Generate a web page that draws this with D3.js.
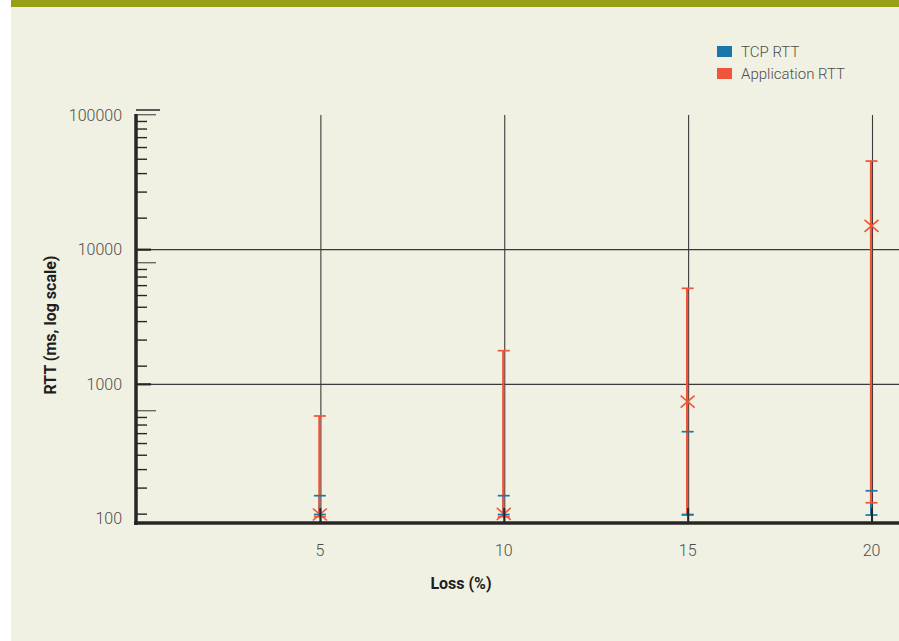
<!DOCTYPE html>
<html>
<head>
<meta charset="utf-8">
<script src="https://cdn.jsdelivr.net/npm/d3@7"></script>
<style>
  html, body { margin: 0; padding: 0; background: #ffffff; }
  svg { display: block; }
  text { font-family: Roboto, "Liberation Sans", sans-serif; }
</style>
</head>
<body>
<svg id="chart" width="899" height="641"></svg>
<script>
// Loss levels (%) on the x axis
const lossLevels = [5, 10, 15, 20];

// TCP RTT (ms): mean, lower and upper bounds
const tcpMean = [108, 108, 108, 107];
const tcpLow  = [107, 107, 107, 106];
const tcpHigh = [149, 149, 445, 162];

// Application RTT (ms): mean, lower and upper bounds
const appMean = [108, 109, 743, 15000];
const appLow  = [104, 104, 107, 132];
const appHigh = [582, 1778, 5164, 45500];

// Axis labels
const yTickValues = [100, 1000, 10000, 100000];
const xTickValues = [5, 10, 15, 20];
const seriesNames = ["TCP RTT", "Application RTT"];

const colors = { tcp: "#1b76a9", app: "#ee553a" };
const ink = "#262626";

const svg = d3.select("#chart");

// panel background and header strip
svg.append("rect").attr("x", 11).attr("y", 0).attr("width", 888).attr("height", 641).attr("fill", "#f1f1e3");
svg.append("rect").attr("x", 11).attr("y", 0).attr("width", 888).attr("height", 7).attr("fill", "#98a016");

const x = d3.scaleLinear().domain([0, 20]).range([136, 871.5]);
const y = d3.scaleLog().domain([100, 100000]).range([519, 115]);
// minor tick ladder along the y axis
const yMinor = d3.scaleLog().domain([10, 10000]).range([558.7, 114.7]);

const plotTop = y(100000);
const plotBottom = 523;
const plotLeft = x(0);
const plotRight = 899;

// horizontal gridlines
svg.append("g").selectAll("line").data(yTickValues.filter(v => v !== 100 && v !== 100000)).join("line")
  .attr("x1", plotLeft).attr("x2", plotRight)
  .attr("y1", d => y(d)).attr("y2", d => y(d))
  .attr("stroke", "#3a3a3a").attr("stroke-width", 1.2);

// vertical gridlines
svg.append("g").selectAll("line").data(xTickValues).join("line")
  .attr("x1", d => x(d) + 1).attr("x2", d => x(d) + 1)
  .attr("y1", plotTop).attr("y2", plotBottom)
  .attr("stroke", "#3a3a3a").attr("stroke-width", 1.1);

// short line at the top of the y axis
svg.append("line").attr("x1", plotLeft).attr("x2", plotLeft + 24)
  .attr("y1", plotTop - 5).attr("y2", plotTop - 5)
  .attr("stroke", ink).attr("stroke-width", 1.5);

// minor y ticks
const minorVals = [];
for (let dec = 10; dec < 10000; dec *= 10) {
  for (let k = 2; k <= 10; k++) minorVals.push(dec * k);
}
svg.append("g").selectAll("line")
  .data(minorVals.filter(v => yMinor(v) < plotBottom - 4))
  .join("line")
  .attr("x1", plotLeft).attr("x2", d => plotLeft + (String(d)[0] === "1" ? 20 : 11))
  .attr("y1", d => yMinor(d)).attr("y2", d => yMinor(d))
  .attr("stroke", d => String(d)[0] === "1" ? "#6a6a6a" : ink)
  .attr("stroke-width", 1.4);

// major y ticks
svg.append("g").selectAll("line").data(yTickValues.filter(v => v !== 100 && v !== 100000)).join("line")
  .attr("x1", plotLeft).attr("x2", plotLeft + 15)
  .attr("y1", d => y(d)).attr("y2", d => y(d))
  .attr("stroke", ink).attr("stroke-width", 2.2);

// y tick labels
svg.append("g").selectAll("text").data(yTickValues).join("text")
  .attr("x", 122).attr("y", d => (d === 100 ? y(d) - 1 : y(d)))
  .attr("dy", "0.36em").attr("text-anchor", "end")
  .attr("font-size", 16).attr("font-weight", 300).attr("fill", "#4d4d4d")
  .text(d => d);

// error bars: TCP vertical under the Application bar
const idx = d3.range(lossLevels.length);
const capHalf = 6;

svg.append("g").selectAll("line").data(idx).join("line")
  .attr("x1", i => x(lossLevels[i]) - 0.5).attr("x2", i => x(lossLevels[i]) - 0.5)
  .attr("y1", i => y(tcpLow[i])).attr("y2", i => y(tcpHigh[i]))
  .attr("stroke", colors.tcp).attr("stroke-width", 2);

svg.append("g").selectAll("line").data(idx).join("line")
  .attr("x1", i => x(lossLevels[i]) - 0.5).attr("x2", i => x(lossLevels[i]) - 0.5)
  .attr("y1", i => y(appLow[i])).attr("y2", i => y(appHigh[i]))
  .attr("stroke", colors.app).attr("stroke-width", 2.2);

// caps
function caps(values, color) {
  svg.append("g").selectAll("line").data(idx).join("line")
    .attr("x1", i => x(lossLevels[i]) - capHalf).attr("x2", i => x(lossLevels[i]) + capHalf)
    .attr("y1", i => y(values[i])).attr("y2", i => y(values[i]))
    .attr("stroke", color).attr("stroke-width", 1.7);
}
caps(appHigh, colors.app);
caps(appLow, colors.app);
caps(tcpHigh, colors.tcp);

// Application mean markers (x)
const mx = 7, my = 6;
const appMarks = svg.append("g").selectAll("g").data(idx).join("g")
  .attr("transform", i => `translate(${x(lossLevels[i])},${y(appMean[i])})`);
appMarks.append("line").attr("x1", -mx).attr("y1", -my).attr("x2", mx).attr("y2", my)
  .attr("stroke", colors.app).attr("stroke-width", 1.6);
appMarks.append("line").attr("x1", -mx).attr("y1", my).attr("x2", mx).attr("y2", -my)
  .attr("stroke", colors.app).attr("stroke-width", 1.6);

// TCP mean markers
svg.append("g").selectAll("line").data(idx).join("line")
  .attr("x1", i => x(lossLevels[i]) - capHalf).attr("x2", i => x(lossLevels[i]) + capHalf)
  .attr("y1", i => y(tcpMean[i])).attr("y2", i => y(tcpMean[i]))
  .attr("stroke", colors.tcp).attr("stroke-width", 1.7);

// x ticks pointing into the plot
svg.append("g").selectAll("line").data(xTickValues).join("line")
  .attr("x1", d => x(d) + 0.5).attr("x2", d => x(d) + 0.5)
  .attr("y1", plotBottom - 15).attr("y2", plotBottom)
  .attr("stroke", ink).attr("stroke-width", 2);

// axes lines
svg.append("line").attr("x1", plotLeft).attr("x2", plotLeft)
  .attr("y1", plotTop - 1).attr("y2", plotBottom + 2)
  .attr("stroke", ink).attr("stroke-width", 3.5);
svg.append("line").attr("x1", plotLeft - 2).attr("x2", plotRight)
  .attr("y1", plotBottom).attr("y2", plotBottom)
  .attr("stroke", ink).attr("stroke-width", 3.5);

// x tick labels
svg.append("g").selectAll("text").data(xTickValues).join("text")
  .attr("x", d => x(d)).attr("y", 556)
  .attr("text-anchor", "middle")
  .attr("font-size", 16).attr("font-weight", 300).attr("fill", "#4d4d4d")
  .text(d => d);

// axis titles
svg.append("text").attr("x", 461).attr("y", 589)
  .attr("text-anchor", "middle").attr("font-size", 16).attr("font-weight", 700).attr("fill", "#1e1e1e")
  .text("Loss (%)");
svg.append("text")
  .attr("transform", "translate(56,325) rotate(-90)")
  .attr("text-anchor", "middle").attr("font-size", 16).attr("font-weight", 700).attr("fill", "#1e1e1e")
  .text("RTT (ms, log scale)");

// legend
const legend = svg.append("g").selectAll("g").data(seriesNames).join("g")
  .attr("transform", (d, i) => `translate(717,${46 + i * 22})`);
legend.append("rect").attr("width", 15).attr("height", 11)
  .attr("fill", (d, i) => i === 0 ? colors.tcp : colors.app);
legend.append("text").attr("x", 24).attr("y", 11)
  .attr("font-size", 15).attr("font-weight", 300).attr("fill", "#4d4d4d")
  .text(d => d);
</script>
</body>
</html>
